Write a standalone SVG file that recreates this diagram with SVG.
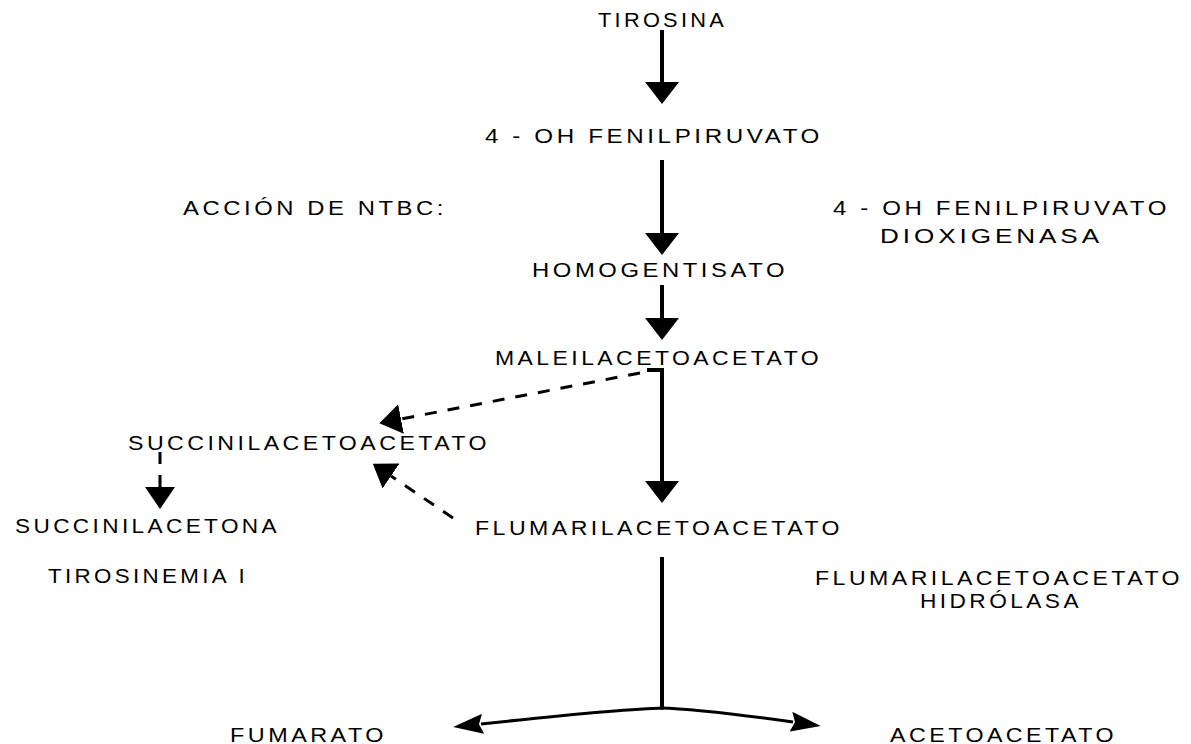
<svg xmlns="http://www.w3.org/2000/svg" width="1191" height="744" viewBox="0 0 1191 744">
<style>
text{font-family:"Liberation Sans",Arial,sans-serif;font-size:20px;letter-spacing:3px;fill:#000}
.solid{fill:none;stroke:#000;stroke-width:4}
.thin{fill:none;stroke:#000;stroke-width:3}
.dash{fill:none;stroke:#000;stroke-width:3;stroke-dasharray:12 11}
</style>
<defs>
<marker id="hl" markerUnits="userSpaceOnUse" viewBox="0 0 22 34" markerWidth="22" markerHeight="34" refX="0" refY="17" orient="auto"><path d="M0,0 L22,17 L0,34 z" fill="#000"/></marker>
<marker id="hm" markerUnits="userSpaceOnUse" viewBox="0 0 22 30" markerWidth="22" markerHeight="30" refX="0" refY="15" orient="auto"><path d="M0,0 L22,15 L0,30 z" fill="#000"/></marker>
<marker id="hs" markerUnits="userSpaceOnUse" viewBox="0 0 30 20" markerWidth="30" markerHeight="20" refX="2" refY="10" orient="auto"><path d="M0,0 L30,10 L0,20 L4,10 z" fill="#000"/></marker>
</defs>
<rect width="1191" height="744" fill="#fff"/>
<g id="connectors">
<path class="solid" d="M662,30 V82" marker-end="url(#hl)"/>
<path class="solid" d="M662,160 V233" marker-end="url(#hl)"/>
<path class="solid" d="M662,285 V318" marker-end="url(#hl)"/>
<path class="solid" d="M647,370 H662 V481" marker-end="url(#hl)"/>
<path class="dash" d="M640,373 L401,419" marker-end="url(#hm)"/>
<path class="dash" d="M453,518 L391,476" marker-end="url(#hm)"/>
<path class="dash" d="M160,452 V487" marker-end="url(#hm)"/>
<path class="solid" d="M662,557 V708"/>
<path class="thin" d="M664,708 Q620,709 481,724" marker-end="url(#hs)"/>
<path class="thin" d="M660,708 Q700,709 793,722" marker-end="url(#hs)"/>
</g>
<g id="tirosina"><text x="598" y="27" textLength="129" lengthAdjust="spacingAndGlyphs">TIROSINA</text></g>
<g id="fenilpiruvato"><text x="485" y="143" textLength="338" lengthAdjust="spacingAndGlyphs">4 - OH   FENILPIRUVATO</text></g>
<g id="accion-ntbc"><text x="183" y="215" textLength="264" lengthAdjust="spacingAndGlyphs">ACCIÓN DE  NTBC:</text></g>
<g id="enzima-dioxigenasa">
<text x="833" y="215" textLength="337" lengthAdjust="spacingAndGlyphs">4 - OH  FENILPIRUVATO</text>
<text x="880" y="243" textLength="223" lengthAdjust="spacingAndGlyphs">DIOXIGENASA</text>
</g>
<g id="homogentisato"><text x="532" y="277" textLength="256" lengthAdjust="spacingAndGlyphs">HOMOGENTISATO</text></g>
<g id="maleilacetoacetato"><text x="495" y="365" textLength="327" lengthAdjust="spacingAndGlyphs">MALEILACETOACETATO</text></g>
<g id="succinilacetoacetato"><text x="128" y="450" textLength="362" lengthAdjust="spacingAndGlyphs">SUCCINILACETOACETATO</text></g>
<g id="succinilacetona"><text x="15" y="533" textLength="265" lengthAdjust="spacingAndGlyphs">SUCCINILACETONA</text></g>
<g id="flumarilacetoacetato"><text x="475" y="535" textLength="368" lengthAdjust="spacingAndGlyphs">FLUMARILACETOACETATO</text></g>
<g id="tirosinemia"><text x="48" y="583" textLength="200" lengthAdjust="spacingAndGlyphs">TIROSINEMIA I</text></g>
<g id="enzima-hidrolasa">
<text x="815" y="585" textLength="368" lengthAdjust="spacingAndGlyphs">FLUMARILACETOACETATO</text>
<text x="920" y="608" textLength="162" lengthAdjust="spacingAndGlyphs">HIDRÓLASA</text>
</g>
<g id="fumarato"><text x="230" y="742" textLength="157" lengthAdjust="spacingAndGlyphs">FUMARATO</text></g>
<g id="acetoacetato"><text x="890" y="742" textLength="227" lengthAdjust="spacingAndGlyphs">ACETOACETATO</text></g>
</svg>
